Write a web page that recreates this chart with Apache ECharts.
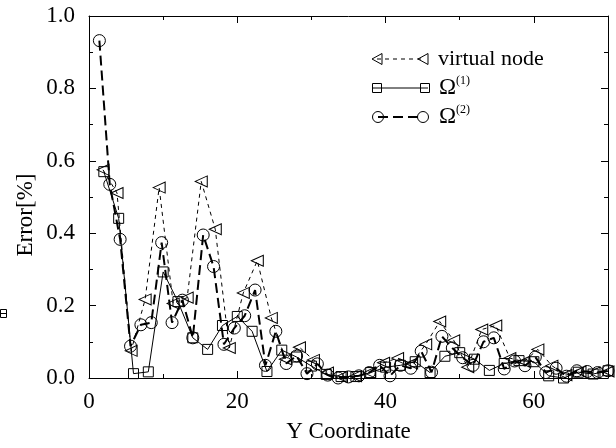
<!DOCTYPE html>
<html>
<head>
<meta charset="utf-8">
<script src="https://cdn.jsdelivr.net/npm/echarts@6/dist/echarts.min.js"></script>
<style>
  html, body { margin: 0; padding: 0; background: #fff; }
  #chart { width: 616px; height: 448px; }
</style>
</head>
<body>
<div id="chart"></div>
<script>
// Error along the Y coordinate for three boundary treatments.

// virtual node
const vnX = [1.89, 3.78, 5.68, 7.57, 9.46, 11.35, 13.24, 15.14, 17.03, 18.92,
  20.81, 22.70, 24.59, 26.49, 28.38, 30.27, 32.16, 34.05, 35.95, 37.84,
  39.73, 41.62, 43.51, 45.41, 47.30, 49.19, 51.08, 52.97, 54.86, 56.76,
  58.65, 60.54, 62.43, 64.32, 66.22, 68.11, 70.00];
const vnY = [0.575, 0.511, 0.075, 0.217, 0.526, 0.206, 0.222, 0.543, 0.411, 0.083,
  0.235, 0.324, 0.166, 0.052, 0.085, 0.050, 0.015, 0.003, 0.005, 0.015,
  0.042, 0.055, 0.040, 0.093, 0.156, 0.104, 0.030, 0.134, 0.145, 0.055,
  0.045, 0.079, 0.034, 0.008, 0.018, 0.015, 0.018];

// Omega(1)
const om1X = [2, 4, 6, 8, 10, 12, 14, 16, 18, 20, 22, 24, 26, 28, 30, 32, 34, 36,
  38, 40, 42, 44, 46, 48, 50, 52, 54, 56, 58, 60, 62, 64, 66, 68, 70];
const om1Y = [0.570, 0.441, 0.012, 0.017, 0.293, 0.211, 0.111, 0.079, 0.145, 0.170,
  0.129, 0.018, 0.077, 0.058, 0.033, 0.010, 0.004, 0.004, 0.015, 0.030,
  0.035, 0.045, 0.015, 0.060, 0.070, 0.052, 0.021, 0.040, 0.048, 0.045,
  0.006, 0.000, 0.016, 0.011, 0.020];

// Omega(2)
const om2X = [1.4, 2.8, 4.2, 5.6, 7.0, 8.4, 9.8, 11.2, 12.6, 14.0,
  15.4, 16.8, 18.2, 19.6, 21.0, 22.4, 23.8, 25.2, 26.6, 28.0,
  29.4, 30.8, 32.2, 33.6, 35.0, 36.4, 37.8, 39.2, 40.6, 42.0,
  43.4, 44.8, 46.2, 47.6, 49.0, 50.4, 51.8, 53.2, 54.6, 56.0,
  57.4, 58.8, 60.2, 61.6, 63.0, 64.4, 65.8, 67.2, 68.6, 70.0];
const om2Y = [0.932, 0.535, 0.383, 0.088, 0.147, 0.153, 0.374, 0.153, 0.215, 0.111,
  0.395, 0.308, 0.093, 0.138, 0.172, 0.243, 0.035, 0.129, 0.040, 0.061,
  0.012, 0.039, 0.008, 0.000, 0.003, 0.006, 0.015, 0.035, 0.006, 0.035,
  0.027, 0.074, 0.016, 0.115, 0.083, 0.056, 0.035, 0.100, 0.111, 0.025,
  0.047, 0.034, 0.058, 0.015, 0.027, 0.005, 0.020, 0.018, 0.015, 0.020];

const xTicks = [0, 20, 40, 60];
const yTicks = ['0.0', '0.2', '0.4', '0.6', '0.8', '1.0'];

const FONT = 'Liberation Serif';
const pairs = (xs, ys) => xs.map((x, i) => [x, ys[i]]);

const chart = echarts.init(document.getElementById('chart'), null, { renderer: 'canvas' });

const tickCommon = {
  axisLine: { show: true, onZero: false, lineStyle: { color: '#000', width: 1 } },
  axisTick: { show: true, inside: true, length: 7, lineStyle: { color: '#000', width: 1 } },
  minorTick: { show: true, splitNumber: 2, length: 4, lineStyle: { color: '#000', width: 1 } },
  splitLine: { show: false }
};

const baseSeries = {
  type: 'line',
  showAllSymbol: true,
  animation: false,
  clip: false,
  z: 3
};

chart.setOption({
  animation: false,
  backgroundColor: '#fff',
  grid: { left: 89, right: 8, top: 16, bottom: 66, containLabel: false },
  xAxis: [
    Object.assign({
      type: 'value', min: 0, max: 70, interval: 20, position: 'bottom',
      name: 'Y Coordinate', nameLocation: 'middle', nameGap: 42,
      nameTextStyle: { fontFamily: FONT, fontSize: 23, color: '#000' },
      axisLabel: {
        show: true, fontFamily: FONT, fontSize: 23, color: '#000', margin: 12,
        showMaxLabel: false,
        formatter: v => (xTicks.indexOf(v) >= 0 ? String(v) : '')
      }
    }, tickCommon),
    Object.assign({
      type: 'value', min: 0, max: 70, interval: 20, position: 'top',
      axisLabel: { show: false }
    }, tickCommon)
  ],
  yAxis: [
    Object.assign({
      type: 'value', min: 0, max: 1, interval: 0.2, position: 'left',
      axisLabel: {
        show: true, fontFamily: FONT, fontSize: 23, color: '#000', margin: 14,
        formatter: v => yTicks[Math.round(v / 0.2)]
      }
    }, tickCommon),
    Object.assign({
      type: 'value', min: 0, max: 1, interval: 0.2, position: 'right',
      axisLabel: { show: false }
    }, tickCommon)
  ],
  series: [
    Object.assign({}, baseSeries, {
      name: 'virtual node',
      data: pairs(vnX, vnY),
      symbol: 'triangle', symbolSize: [11, 12], symbolRotate: 90,
      lineStyle: { color: '#000', width: 1, type: [4, 4] },
      itemStyle: { color: 'rgba(255,255,255,0)', borderColor: '#000', borderWidth: 1 }
    }),
    Object.assign({}, baseSeries, {
      name: 'Ω(1)',
      data: pairs(om1X, om1Y),
      symbol: 'rect', symbolSize: 10,
      lineStyle: { color: '#000', width: 1, type: 'solid' },
      itemStyle: { color: 'rgba(255,255,255,0)', borderColor: '#000', borderWidth: 1 }
    }),
    Object.assign({}, baseSeries, {
      name: 'Ω(2)',
      data: pairs(om2X, om2Y),
      symbol: 'circle', symbolSize: 12,
      lineStyle: { color: '#000', width: 2, type: [10, 5] },
      itemStyle: { color: 'rgba(255,255,255,0)', borderColor: '#000', borderWidth: 1 }
    })
  ],
  graphic: [
    // vertical axis title
    {
      type: 'text', x: 26, y: 215, rotation: Math.PI / 2,
      style: {
        text: 'Error[%]', font: '23px "Liberation Serif"', fill: '#000',
        align: 'center', verticalAlign: 'middle'
      }
    },
    // small mark at the left margin
    {
      type: 'rect', shape: { x: 0.5, y: 309.5, width: 6, height: 8 },
      style: { fill: 'none', stroke: '#000', lineWidth: 1 }
    },
    {
      type: 'line', shape: { x1: 0, y1: 313.5, x2: 6, y2: 313.5 },
      style: { stroke: '#000', lineWidth: 1 }
    },
    // legend: line samples with a marker at each end
    { type: 'line', shape: { x1: 377, y1: 59, x2: 424, y2: 59 },
      style: { stroke: '#000', lineWidth: 1, lineDash: [4, 4] } },
    { type: 'polygon', shape: { points: [[372, 59], [382, 53.5], [382, 64.5]] },
      style: { fill: 'none', stroke: '#000', lineWidth: 1 } },
    { type: 'polygon', shape: { points: [[418, 59], [428, 53.5], [428, 64.5]] },
      style: { fill: 'none', stroke: '#000', lineWidth: 1 } },
    { type: 'text', x: 438, y: 59,
      style: { text: 'virtual node', font: '22px "Liberation Serif"', fill: '#000', verticalAlign: 'middle' } },

    { type: 'line', shape: { x1: 373, y1: 88, x2: 428, y2: 88 },
      style: { stroke: '#000', lineWidth: 1 } },
    { type: 'rect', shape: { x: 372.5, y: 83.5, width: 9, height: 9 },
      style: { fill: 'none', stroke: '#000', lineWidth: 1 } },
    { type: 'rect', shape: { x: 420.5, y: 83.5, width: 9, height: 9 },
      style: { fill: 'none', stroke: '#000', lineWidth: 1 } },
    { type: 'text', x: 439, y: 88,
      style: {
        text: 'Ω{s|(1)}', font: '23px "Liberation Serif"', fill: '#000', verticalAlign: 'middle',
        rich: { s: { font: '12px "Liberation Serif"', fill: '#000', verticalAlign: 'top', padding: [0, 0, 14, 0] } }
      } },

    { type: 'line', shape: { x1: 378, y1: 117, x2: 422, y2: 117 },
      style: { stroke: '#000', lineWidth: 2, lineDash: [10, 5] } },
    { type: 'circle', shape: { cx: 378, cy: 117, r: 5.5 },
      style: { fill: 'none', stroke: '#000', lineWidth: 1 } },
    { type: 'circle', shape: { cx: 423, cy: 117, r: 5.5 },
      style: { fill: 'none', stroke: '#000', lineWidth: 1 } },
    { type: 'text', x: 439, y: 117,
      style: {
        text: 'Ω{s|(2)}', font: '23px "Liberation Serif"', fill: '#000', verticalAlign: 'middle',
        rich: { s: { font: '12px "Liberation Serif"', fill: '#000', verticalAlign: 'top', padding: [0, 0, 14, 0] } }
      } }
  ]
});
</script>
</body>
</html>
